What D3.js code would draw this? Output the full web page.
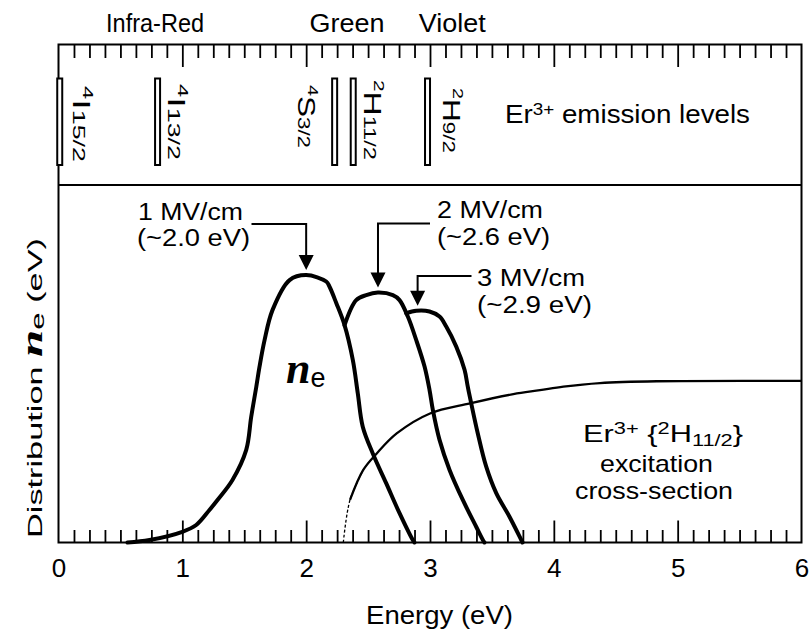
<!DOCTYPE html>
<html>
<head>
<meta charset="utf-8">
<script src="https://cdn.jsdelivr.net/npm/d3@7"></script>
<style>
  html, body { margin: 0; padding: 0; background: #fff; }
  text { font-family: "Liberation Sans", Arial, sans-serif; fill: #000; }
</style>
</head>
<body>
<script>
// ---------------- DATA ----------------
const energyTicks = [0, 1, 2, 3, 4, 5, 6];

// Electron energy distributions (energy in eV, arbitrary distribution units 0-100)
const curve1E = [0.557, 0.735, 1.0, 1.112, 1.219, 1.284, 1.405, 1.516, 1.556, 1.597, 1.623, 1.664, 1.728, 1.866, 2.0, 2.162, 2.188, 2.243, 2.31, 2.377, 2.417, 2.457, 2.538, 2.646, 2.754, 2.861, 2.875];
const curve1V = [0, 0.7, 3.0, 4.9, 9.1, 11.9, 17.5, 25.9, 35.1, 43.5, 49.1, 56.6, 65.0, 73.4, 74.8, 73.0, 71.6, 67.0, 60.8, 51.0, 41.7, 32.4, 24.9, 16.6, 8.2, 0.7, 0];

const curve2E = [2.31, 2.404, 2.485, 2.579, 2.70, 2.754, 2.821, 2.889, 2.956, 2.996, 3.023, 3.077, 3.158, 3.265, 3.373, 3.427, 3.44];
const curve2V = [60.8, 67.8, 69.2, 69.9, 69.2, 67.8, 63.2, 56.6, 49.2, 42.7, 37.1, 28.7, 20.3, 11.9, 4.4, 0.7, 0];

const curve3E = [2.808, 2.889, 2.996, 3.077, 3.131, 3.212, 3.279, 3.305, 3.333, 3.386, 3.454, 3.535, 3.642, 3.737, 3.747];
const curve3V = [64.1, 64.8, 64.6, 63.2, 60.4, 54.8, 48.3, 43.6, 38.9, 30.5, 21.2, 13.8, 7.2, 0.7, 0];

// Er3+ {2H11/2} excitation cross-section
const crossE = [2.30, 2.354, 2.461, 2.570, 2.731, 3.0, 3.323, 3.673, 3.888, 4.077, 4.373, 4.831, 6.0];
const crossV = [0, 11.9, 20.3, 24.9, 30.5, 36.1, 38.9, 41.5, 42.6, 43.6, 44.6, 45.1, 45.2];

// Field labels and peak energies
const fieldLabels = ["1 MV/cm", "2 MV/cm", "3 MV/cm"];
const peakLabels = ["(~2.0 eV)", "(~2.6 eV)", "(~2.9 eV)"];
const peakEnergy = [2.0, 2.58, 2.9];

// Er3+ emission levels
const levelSup = ["4", "4", "4", "2", "2"];
const levelTerm = ["I", "I", "S", "H", "H"];
const levelSub = ["15/2", "13/2", "3/2", "11/2", "9/2"];
const levelEnergy = [0.01, 0.80, 2.23, 2.38, 2.98];

// Spectral region names and their energies
const regionNames = ["Infra-Red", "Green", "Violet"];
const regionEnergy = [0.78, 2.33, 3.18];

// ---------------- DRAWING ----------------
const svg = d3.select("body").append("svg").attr("width", 809).attr("height", 631);

const xs = d3.scaleLinear().domain([0, 6]).range([58.5, 801.5]);
const ysc = d3.scaleLinear().domain([0, 100]).range([542.5, 185]);
const topY = 44.5;
const xL = xs(0), xR = xs(6), yBot = ysc(0), ySep = ysc(100);

// inner ticks via d3 axes: every 1/8 eV (minor), every 1 eV (major)
const minorVals = d3.range(1, 48).filter(i => i % 8 !== 0).map(i => i / 8);
const majorVals = [1, 2, 3, 4, 5];
function tickAxis(gen, vals, size, yPos) {
  const g = svg.append("g").attr("transform", `translate(0,${yPos})`)
    .call(gen(xs).tickValues(vals).tickSize(size).tickFormat(() => ""));
  g.select(".domain").remove();
  g.selectAll(".tick line").attr("stroke", "#000").attr("stroke-width", 1.8);
  return g;
}
tickAxis(d3.axisBottom, minorVals, -12.5, yBot);
tickAxis(d3.axisBottom, majorVals, -22, yBot);
tickAxis(d3.axisTop, minorVals, -13.5, topY);
tickAxis(d3.axisTop, majorVals, -22.5, topY);

// frame
svg.append("rect").attr("x", xL).attr("y", topY).attr("width", xR - xL).attr("height", yBot - topY)
  .attr("fill", "none").attr("stroke", "black").attr("stroke-width", 2);
svg.append("path").attr("d", `M${xL},${ySep}H${xR}`).attr("stroke", "black").attr("stroke-width", 2);

// bottom axis labels
const axis = d3.axisBottom(xs).tickValues(energyTicks).tickSize(0).tickPadding(0).tickFormat(d3.format("d"));
const ag = svg.append("g").attr("transform", `translate(0,${yBot})`).call(axis);
ag.select(".domain").remove();
ag.selectAll("text").attr("font-size", 26).attr("font-family", "Liberation Sans, Arial, sans-serif")
  .attr("dy", null).attr("y", 34.5).attr("fill", "#000");

// axis titles
svg.append("text").attr("x", 366).attr("y", 624).attr("font-size", 25)
  .attr("textLength", 147).attr("lengthAdjust", "spacingAndGlyphs").text("Energy (eV)");

const yl = svg.append("text").attr("transform", "translate(42,388) rotate(-90)")
  .attr("text-anchor", "middle").attr("font-size", 21)
  .attr("textLength", 300).attr("lengthAdjust", "spacingAndGlyphs");
yl.append("tspan").text("Distribution ");
yl.append("tspan").attr("font-family", "Liberation Serif, serif").attr("font-style", "italic")
  .attr("font-weight", "bold").attr("font-size", 30).text("n");
yl.append("tspan").attr("font-size", 19).attr("dy", 2).text("e");
yl.append("tspan").attr("dy", -2).text(" (eV)");

// region names
const regionW = [98, 75, 67];
regionNames.forEach((n, i) => {
  svg.append("text").attr("x", xs(regionEnergy[i])).attr("y", 32).attr("text-anchor", "middle")
    .attr("font-size", 25).attr("textLength", regionW[i]).attr("lengthAdjust", "spacingAndGlyphs").text(n);
});

// emission level bars
svg.append("g").selectAll("rect").data(levelEnergy).join("rect")
  .attr("x", e => xs(e) - 2.5).attr("y", 78.5).attr("width", 5).attr("height", 86.5)
  .attr("fill", "#fff").attr("stroke", "black").attr("stroke-width", 2);

const labelDx = [13.5, 10, -36.5, 11, 15];
const labelY = [86, 84, 85, 80, 88];
const labelLen = [76, 76, 63, 80, 65];
levelEnergy.forEach((e, i) => {
  const t = svg.append("text").attr("transform", `translate(${xs(e) + labelDx[i]},${labelY[i]}) rotate(90)`)
    .attr("font-size", 24).attr("textLength", labelLen[i]).attr("lengthAdjust", "spacingAndGlyphs");
  t.append("tspan").attr("font-size", 15).attr("dy", -10).text(levelSup[i]);
  t.append("tspan").attr("dy", 10).text(levelTerm[i]);
  t.append("tspan").attr("font-size", 17).text(levelSub[i]);
});

const em = svg.append("text").attr("x", 505).attr("y", 123).attr("font-size", 25)
  .attr("textLength", 245).attr("lengthAdjust", "spacingAndGlyphs");
em.append("tspan").text("Er");
em.append("tspan").attr("font-size", 17).attr("dy", -8).text("3+");
em.append("tspan").attr("dy", 8).text(" emission levels");

// curves
const lineGen = d3.line().x(d => xs(d[0])).y(d => ysc(d[1])).curve(d3.curveCatmullRom.alpha(0.5));
const zip = (a, b) => a.map((v, i) => [v, b[i]]);

const cross = zip(crossE, crossV);
svg.append("path").attr("d", lineGen(cross.slice(0, 3))).attr("fill", "none").attr("stroke", "black")
  .attr("stroke-width", 1.3).attr("stroke-dasharray", "3,2");
svg.append("path").attr("d", lineGen(cross.slice(1))).attr("fill", "none").attr("stroke", "black")
  .attr("stroke-width", 2.3);

[[curve1E, curve1V], [curve2E, curve2V], [curve3E, curve3V]].forEach(([e, v]) => {
  svg.append("path").attr("d", lineGen(zip(e, v))).attr("fill", "none").attr("stroke", "black")
    .attr("stroke-width", 4).attr("stroke-linejoin", "round").attr("stroke-linecap", "round");
});

// n_e label inside curve
const ne = svg.append("text").attr("x", 286).attr("y", 383);
ne.append("tspan").attr("font-family", "Liberation Serif, serif").attr("font-style", "italic")
  .attr("font-weight", "bold").attr("font-size", 44).text("n");
ne.append("tspan").attr("font-size", 27).attr("dy", 4).text("e");

// arrows with labels
const peakVals = [d3.max(curve1V), d3.max(curve2V), d3.max(curve3V)];
const armY = [224, 223.5, 276];
const armEnd = [251.5, 430, 471.5];
const txtX = [[138, 137], [437, 437], [477, 477]];
const txtY = [[220, 246], [218, 245], [286, 313]];
const txtW = [[105, 113], [106, 113], [108, 115]];
peakEnergy.forEach((e, i) => {
  const tx = xs(e), tipY = ysc(peakVals[i]) - 5;
  svg.append("path").attr("d", `M${armEnd[i]},${armY[i]}H${tx}V${tipY - 12}`)
    .attr("fill", "none").attr("stroke", "black").attr("stroke-width", 2);
  svg.append("path").attr("d", `M${tx - 7.5},${tipY - 15}L${tx + 7.5},${tipY - 15}L${tx},${tipY}Z`)
    .attr("fill", "black");
  svg.append("text").attr("x", txtX[i][0]).attr("y", txtY[i][0]).attr("font-size", 23)
    .attr("textLength", txtW[i][0]).attr("lengthAdjust", "spacingAndGlyphs").text(fieldLabels[i]);
  svg.append("text").attr("x", txtX[i][1]).attr("y", txtY[i][1]).attr("font-size", 23)
    .attr("textLength", txtW[i][1]).attr("lengthAdjust", "spacingAndGlyphs").text(peakLabels[i]);
});

// cross-section label
const c1 = svg.append("text").attr("x", 583).attr("y", 441.5).attr("font-size", 24)
  .attr("textLength", 160).attr("lengthAdjust", "spacingAndGlyphs");
c1.append("tspan").text("Er");
c1.append("tspan").attr("font-size", 17).attr("dy", -8).text("3+");
c1.append("tspan").attr("dy", 8).text(" {");
c1.append("tspan").attr("font-size", 17).attr("dy", -8).text("2");
c1.append("tspan").attr("dy", 8).text("H");
c1.append("tspan").attr("font-size", 17).attr("dy", 4).text("11/2");
c1.append("tspan").attr("dy", -4).text("}");
svg.append("text").attr("x", 600).attr("y", 471.5).attr("font-size", 24)
  .attr("textLength", 113).attr("lengthAdjust", "spacingAndGlyphs").text("excitation");
svg.append("text").attr("x", 575).attr("y", 498.5).attr("font-size", 24)
  .attr("textLength", 158).attr("lengthAdjust", "spacingAndGlyphs").text("cross-section");
</script>
</body>
</html>
